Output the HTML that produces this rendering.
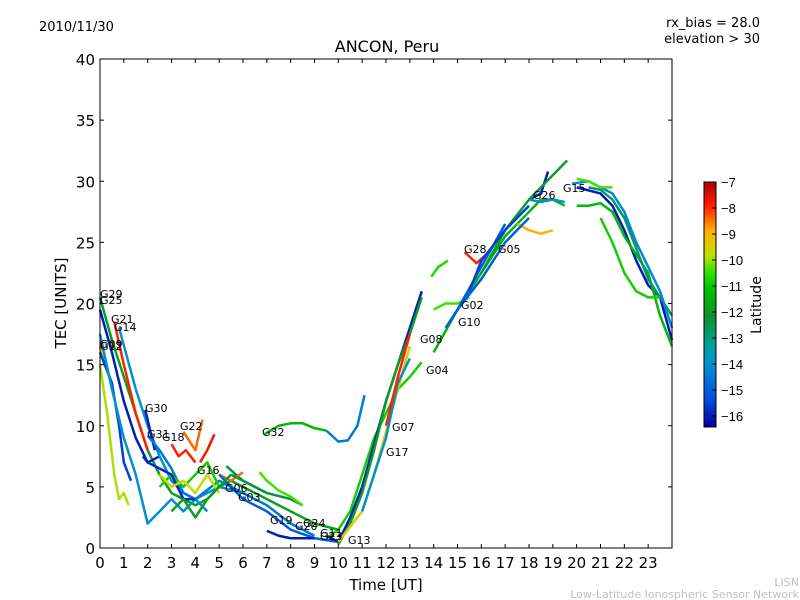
<!DOCTYPE html>
<html><head><meta charset="utf-8"><style>
body{margin:0;background:#fff;}
svg{display:block;font-family:"DejaVu Sans","Liberation Sans",sans-serif;}
</style></head><body>
<svg id="chart" width="800" height="600">
<rect width="800" height="600" fill="#fff"/>
<text x="39" y="31" font-size="13">2010/11/30</text>
<text x="760" y="27" font-size="13" text-anchor="end">rx_bias = 28.0</text>
<text x="760" y="43" font-size="13" text-anchor="end">elevation &gt; 30</text>
<text x="387" y="52" font-size="16" text-anchor="middle">ANCON, Peru</text>
<g id="tracks"></g>
<g id="axes"></g>
<rect x="100" y="59" width="572" height="489" fill="none" stroke="#000" stroke-width="1"/>
<text x="386" y="590" font-size="15" text-anchor="middle">Time [UT]</text>
<text transform="translate(66,303) rotate(-90)" font-size="15" text-anchor="middle">TEC [UNITS]</text>
<g id="labels" font-size="11"></g>
<defs><linearGradient id="cbgrad" x1="0" y1="1" x2="0" y2="0">
<stop offset="0" stop-color="#0000a0"/><stop offset="0.12" stop-color="#0050e0"/><stop offset="0.25" stop-color="#0090d0"/><stop offset="0.33" stop-color="#00a0a0"/><stop offset="0.45" stop-color="#109030"/><stop offset="0.56" stop-color="#00c000"/><stop offset="0.63" stop-color="#30e000"/><stop offset="0.7" stop-color="#c0e000"/><stop offset="0.8" stop-color="#ffb000"/><stop offset="0.9" stop-color="#ff2000"/><stop offset="1" stop-color="#b00000"/>
</linearGradient></defs>
<rect x="704" y="182" width="12" height="245" fill="url(#cbgrad)" stroke="#000" stroke-width="1"/>
<g id="cbticks" font-size="13" style="font-family:'Liberation Sans',sans-serif"></g>
<text transform="translate(761,305) rotate(-90)" font-size="14" text-anchor="middle">Latitude</text>
<text x="799" y="586" font-size="11" fill="#c0c0c0" text-anchor="end">LISN</text>
<text x="799" y="598" font-size="11" fill="#c0c0c0" text-anchor="end">Low-Latitude Ionospheric Sensor Network</text>
</svg>
<script>
const xTicks=[0,1,2,3,4,5,6,7,8,9,10,11,12,13,14,15,16,17,18,19,20,21,22,23];
const yTicks=[0,5,10,15,20,25,30,35,40];
const cbTicks=[-7,-8,-9,-10,-11,-12,-13,-14,-15,-16];
const trackLats=[-12,-16,-8,-14,-9,-10,-15.5,-14,-16,-14.5,-8,-8.5,-7.8,-11,-12.5,-8.5,-15,-10.5,-11.5,-16,-11,-16,-12,-9.5,-14,-8,-10.5,-11.5,-8,-16,-12,-9,-16,-11.5,-15,
 -14.5,-15.8,-9.8,-14,-12.8,-11,-14.2,-10.5,-12,-15,-10.8,-15.5,-12.5];
const trackTimes=[
[0,0.5,1,1.5,2,2.5,3,3.5,4,4.5,5,5.5,6,7,8,9,10],
[0,0.5,1,1.5,2,2.5],
[0.6,1,1.5,2],
[0.8,1.5,2,2.5,3,3.5,4,5,6],
[0,0.2,0.4],
[0,0.3,0.6,0.8,1,1.2],
[0,0.5,0.8,1,1.3],
[0,0.5,1,1.5,2,2.5,3,3.5,4,4.5],
[1.9,2.3],
[2,2.5,3,3.5,4,5,6,7,8,9],
[3,3.3,3.6,4],
[3.5,4,4.3],
[4.2,4.5,4.8],
[2.5,3,3.5,4,4.5,5],
[5.3,6,7,8,8.5],
[5,5.5,6],
[5,6,7,8,9,10],
[6.7,7,7.5,8,8.5],
[6.9,7.5,8,8.5,9,9.5],
[7,7.5,8,9],
[9.5,10,10.5,11,11.5,12,12.5,13,13.5],
[9.5,10,10.5,11,11.5,12,12.5,13,13.5],
[10,10.5,11,11.5,12,12.5,13,13.5],
[10,11,11.5,12,12.5,13],
[11,12,12.5,13],
[12,12.5,13],
[14,14.5,15,15.5],
[14,15,16,17,18,18.5,19,19.5],
[15.3,15.8,16.2],
[18,18.5,18.8],
[16,17,18,19,19.6],
[17.5,18,18.5,19],
[20,21,21.5,22,22.5,23,23.5,24],
[20,20.5,21,21.5,22,22.5,23,23.5,24],
[14.5,15,16,17],
[9.5,10,10.4,10.8,11.1],
[1.8,2,2.5,3,3.5,4],
[2.5,3,3.5,4,4.5,5],
[18,18.5,19,19.5],
[20.5,21,21.5,22,22.5,23,23.5,24],
[21,21.5,22,22.5,23,23.5],
[19.8,20.5,21,21.5,22,22.5,23,23.5,24],
[20,20.5,21,21.5],
[3,3.5,4,4.5,5,5.5],
[15,16,17,18],
[13.9,14.2,14.6],
[15.5,16,17,18],
[5.5,6,6.5,7]
];
const trackTec=[
[20.5,17,14,11,8,6,4.5,4,3.5,4,5,5.5,5,4,3,2,1.5],
[19.5,16,12,9,7,7.5],
[18.5,15,11,8],
[18,13,10,7.5,5.5,4.5,4,5,4.5],
[16.5,15,14],
[15,11,6,4,4.5,3.5],
[16,13.5,10,7,5.5],
[17.5,13,9,6,2,3,4,3,4,3],
[11.3,8],
[9.2,8,6.5,4.5,4,5.5,4.5,3.5,2,1],
[8.5,7.5,8,7],
[9.5,8,10.5],
[7,8,9.3],
[5,6,5,6,7,5],
[6.7,5.5,4.5,4,3.5],
[6,5.5,6.2],
[6,4,3,1.5,0.8,0.5],
[6.2,5.5,4.7,4.2,3.5],
[9.3,10,10.2,10.2,9.8,9.6],
[1.4,1,0.8,0.8],
[0.8,1.5,3,6,9,11,13,14,15.2],
[1,0.5,2.5,5,8.5,12,15,18,21],
[0.3,2,4.5,8,12,15,17.5,20.5],
[0.5,3,6,9.5,13,16.5],
[3,9,13.5,15.5],
[10,14,17.5],
[19.5,20,20,20.5],
[16,19.5,22.5,25.5,27.5,28.5,28.5,28],
[24.2,23.3,24],
[28.5,29,30.8],
[22.5,26,28.5,30.5,31.7],
[26.5,26,25.7,26],
[29.5,29,28,26,23.5,21.5,20.5,17],
[28,28,28.2,27.5,25.5,24,22.5,19,16.5],
[18,19.5,23,26.5],
[9.6,8.7,8.8,10,12.5],
[7.5,7,6.5,6,4,4],
[6,5,5.5,4.5,6,4.5],
[28.5,28.3,28.5,28.3],
[29.5,29.3,28.5,27,24.5,22,20.5,19],
[27,25,22.5,21,20.5,20.5],
[29.8,30,29.5,29,27.5,25,23,21,18],
[30.2,30,29.5,29.5],
[3,4,2.5,4,5,6],
[19.5,22,25,27],
[22.2,23,23.5],
[21,23.5,26,28],
[6,5.5,5,4.5]
];
const labelNames=["G29","G25","G21","G14","G09","G12","G30","G31","G18","G22","G16","G06","G03","G32","G19","G20","G24","G11","G23","G13","G07","G17","G08","G04","G10","G02","G28","G05","G26","G15"];
const labelPx=[[100,298],[100,304],[111,323],[114,331],[100,348],[100,350],[145,412],[147,438],[162,441],[180,430],[197,474],[225,492],[238,501],[262,436],[270,524],[295,530],[303,527],[320,537],[320,540],[348,544],[392,431],[386,456],[420,343],[426,374],[458,326],[461,309],[464,253],[498,253],[533,199],[563,192]];

const X=t=>100+t*572/24, Y=v=>548-v*12.225;
const CBY=l=>182+(-7-l)*26;
const stops=[[-16.4,[0,0,160]],[-15.3,[0,80,224]],[-14.1,[0,144,208]],[-13.4,[0,160,160]],[-12.3,[16,144,48]],[-11.3,[0,192,0]],[-10.6,[48,224,0]],[-9.9,[192,224,0]],[-9,[255,176,0]],[-8,[255,32,0]],[-7,[176,0,0]]];
function col(l){
 for(let i=0;i<stops.length-1;i++){const a=stops[i],b=stops[i+1];
  if(l<=b[0]){const f=Math.max(0,(l-a[0])/(b[0]-a[0]));return 'rgb('+a[1].map((c,k)=>Math.round(c+(b[1][k]-c)*f)).join(',')+')';}}
 return 'rgb(176,0,0)';}
const NS='http://www.w3.org/2000/svg';
const tg=document.getElementById('tracks');
for(let i=0;i<trackTimes.length;i++){
 const p=document.createElementNS(NS,'polyline');
 p.setAttribute('points',trackTimes[i].map((t,j)=>X(t)+','+Y(trackTec[i][j])).join(' '));
 p.setAttribute('fill','none');p.setAttribute('stroke',col(trackLats[i]));p.setAttribute('stroke-width','2.5');p.setAttribute('stroke-linejoin','round');
 
 
 tg.appendChild(p);}
const ax=document.getElementById('axes');
xTicks.forEach(t=>{
 const l=document.createElementNS(NS,'line');l.setAttribute('x1',X(t));l.setAttribute('x2',X(t));l.setAttribute('y1',548);l.setAttribute('y2',544);l.setAttribute('stroke','#000');
 
 
 ax.appendChild(l);
 const l2=l.cloneNode();l2.setAttribute('y1',59);l2.setAttribute('y2',63);ax.appendChild(l2);
 const tx=document.createElementNS(NS,'text');tx.setAttribute('x',X(t));tx.setAttribute('y',568);tx.setAttribute('font-size','15');tx.setAttribute('text-anchor','middle');tx.textContent=t;
 
 
 ax.appendChild(tx);});
yTicks.forEach(v=>{
 const l=document.createElementNS(NS,'line');l.setAttribute('x1',100);l.setAttribute('x2',104);l.setAttribute('y1',Y(v));l.setAttribute('y2',Y(v));l.setAttribute('stroke','#000');
 
 
 ax.appendChild(l);
 const l2=l.cloneNode();l2.setAttribute('x1',668);l2.setAttribute('x2',672);ax.appendChild(l2);
 const tx=document.createElementNS(NS,'text');tx.setAttribute('x',95);tx.setAttribute('y',Y(v)+6);tx.setAttribute('font-size','15');tx.setAttribute('text-anchor','end');tx.textContent=v;
 
 
 ax.appendChild(tx);});
const cb=document.getElementById('cbticks');
cbTicks.forEach(v=>{
 const l=document.createElementNS(NS,'line');l.setAttribute('x1',712);l.setAttribute('x2',716);l.setAttribute('y1',CBY(v));l.setAttribute('y2',CBY(v));l.setAttribute('stroke','#000');
 
 
 cb.appendChild(l);
 const tx=document.createElementNS(NS,'text');tx.setAttribute('x',721);tx.setAttribute('y',CBY(v)+5);tx.textContent='\u2212'+Math.abs(v);
 
 
 cb.appendChild(tx);});
const lg=document.getElementById('labels');
labelNames.forEach((n,i)=>{
 const tx=document.createElementNS(NS,'text');tx.setAttribute('x',labelPx[i][0]);tx.setAttribute('y',labelPx[i][1]);tx.textContent=n;
 
 
 lg.appendChild(tx);});
</script>
</body></html>
